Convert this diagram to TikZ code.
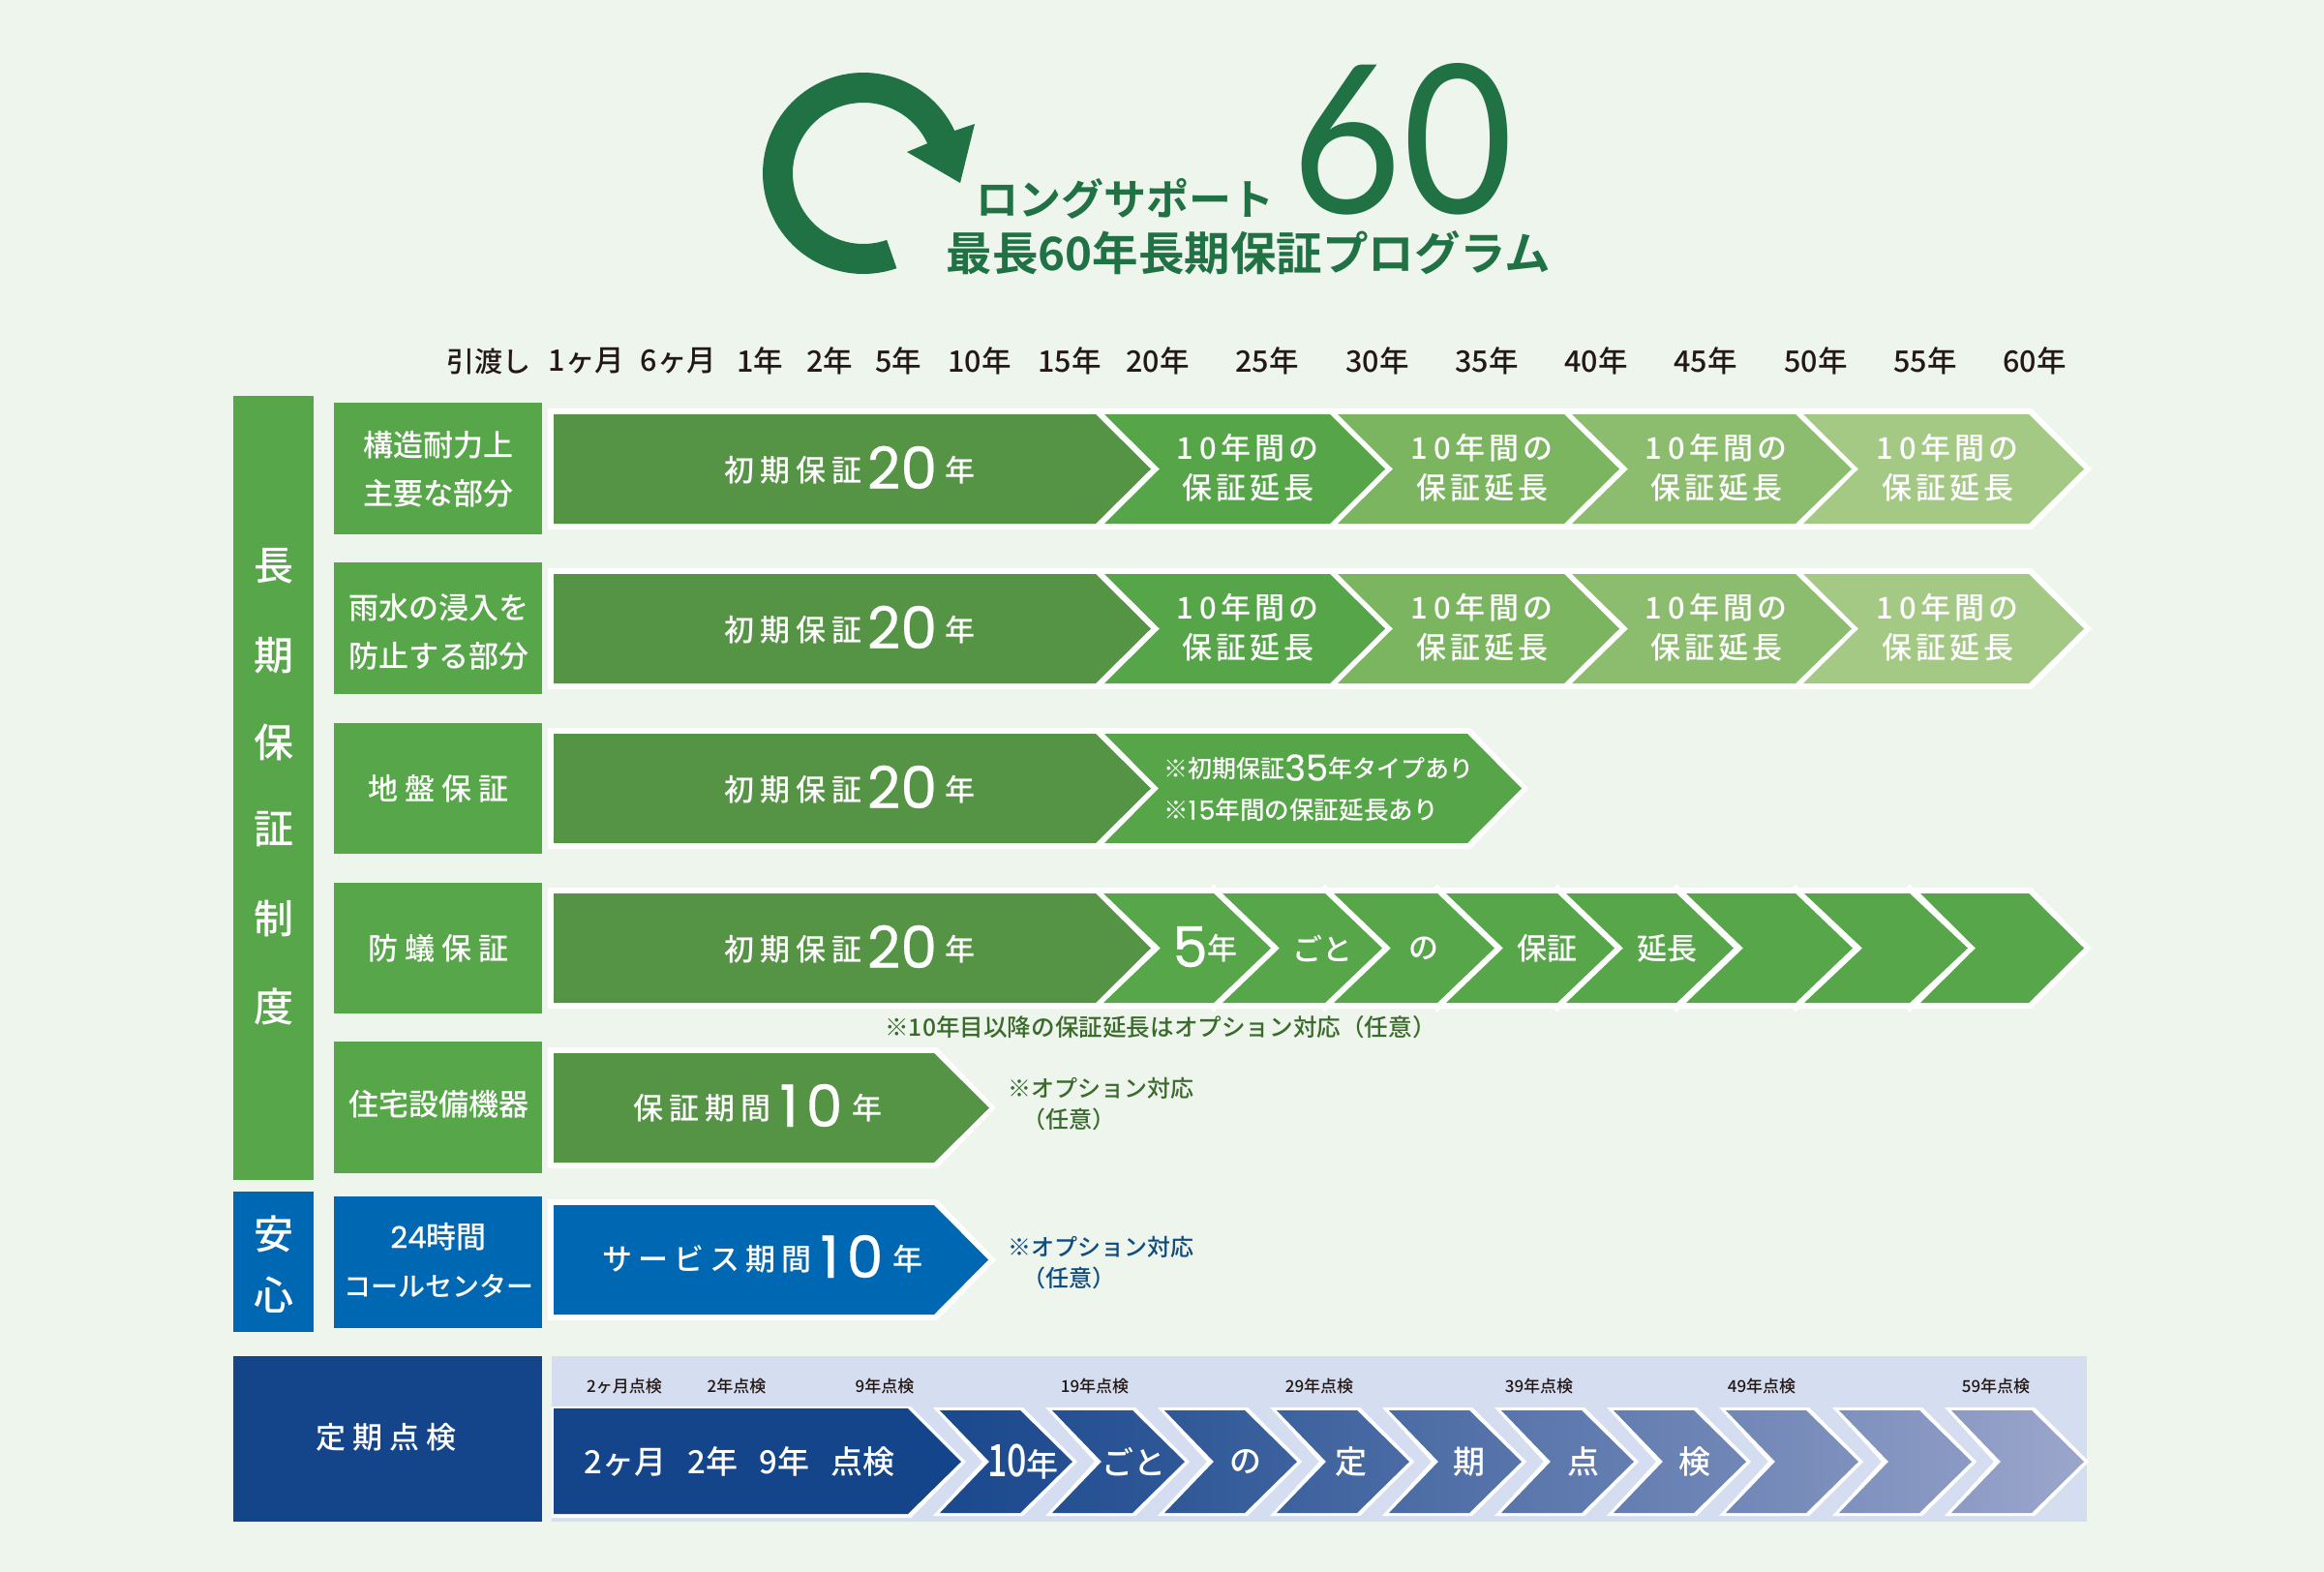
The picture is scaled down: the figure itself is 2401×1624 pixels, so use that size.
\documentclass[tikz,border=0pt]{standalone}
\usepackage{fontspec}
\newfontfamily\cjk{Noto Sans CJK JP Medium}
\newfontfamily\cjkbold{Noto Sans CJK JP Bold}
\newfontfamily\pop[FakeBold=0.5]{Poppins}
\newfontfamily\bigfont{Lato}
\definecolor{bgc}{HTML}{EEF5EC}
\definecolor{gbox}{HTML}{58A64A}
\definecolor{gdark}{HTML}{559445}
\definecolor{gone}{HTML}{56A548}
\definecolor{gtwo}{HTML}{7CB560}
\definecolor{gthree}{HTML}{8CBC6E}
\definecolor{gfour}{HTML}{A3C985}
\definecolor{blu}{HTML}{0068B3}
\definecolor{nav}{HTML}{14448A}
\definecolor{navend}{HTML}{9CA6CC}
\definecolor{panel}{HTML}{D5DEF0}
\definecolor{logo}{HTML}{207144}
\definecolor{notegreen}{HTML}{3A6A2C}
\definecolor{noteblue}{HTML}{0F4C81}
\definecolor{ink}{HTML}{231815}
\newcommand\chev[6]{\path[fill=#1] (#2,#5) -- (#3,#5) -- (#4,{(#5+#6)/2}) -- (#3,#6) -- (#2,#6) -- ({#2+#4-#3},{(#5+#6)/2}) -- cycle;}
\newcommand\flatbar[5]{\path[fill=#1] (#2,#4) -- (#3,#4) -- ({#3+57},{(#4+#5)/2}) -- (#3,#5) -- (#2,#5) -- cycle;}
\newcommand\backing[4]{\path[fill=white] (566,#3) -- (#1,#3) -- (#2,{(#3+#4)/2}) -- (#1,#4) -- (566,#4) -- cycle;}
\newcommand\bignum[2]{\raisebox{-8pt}{\pop\fontsize{#1}{#1}\selectfont #2}}
\newcommand\midnum[2]{\raisebox{-3pt}{\pop\fontsize{#1}{#1}\selectfont #2}}
\newcommand\spk{\kern7pt}
\newcommand\kr{\kern4pt}
\newcommand\tenyr{1\kern7pt 0\kr 年\kr 間\kr の\\保\kr 証\kr 延\kr 長}
\newcommand\shokibar{初\kern6pt 期\kern6pt 保\kern6pt 証\kern5pt\bignum{60}{20}\kern8pt 年}
\newcommand\bottomchev[3]{\path[fill=white] ({#1-7},1454) -- ({#1+86},1454) -- ({#1+142},1510) -- ({#1+86},1566) -- ({#1-7},1566) -- ({#1+44},1510) -- cycle;
 \shade[left color=nav!#2!navend,right color=nav!#3!navend] (#1,1457) -- ({#1+83},1457) -- ({#1+137},1510) -- ({#1+83},1563) -- (#1,1563) -- ({#1+51},1510) -- cycle;}
\tikzset{
  txt/.style={inner sep=0pt,text=white,align=center},
  fs/.style 2 args={font=\cjk\fontsize{#1}{#2}\selectfont},
  head/.style={txt,text=ink,fs={30.5}{36}},
  rowlab/.style={txt,fs={31}{50}},
  collab/.style={txt,fs={41}{48}},
  barnum/.style={txt,anchor=base,fs={31}{36}},
  chevt/.style={txt,fs={31}{41}},
  smalltxt/.style={txt,text=ink,fs={17}{20}}
}
\begin{document}
\begin{tikzpicture}[x=1pt,y=-1pt]
\useasboundingbox (0,0) rectangle (2401,1624);
\path[fill=bgc] (0,0) rectangle (2401,1624);

% logo
\path[fill=logo] plot[domain=-70.7:-335,samples=80] ({892+104*cos(\x)},{179-104*sin(\x)})
  -- (1007,128) -- (992,189) -- (937,157)
  -- plot[domain=-335:-70.7,samples=80] ({892+73*cos(\x)},{179-73*sin(\x)}) -- cycle;
\node[txt,text=logo] (big60) at (1449,144) {\scalebox{0.92}[1]{\bigfont\fontsize{214}{214}\selectfont 60}};
\node[txt,text=logo,font=\cjkbold\fontsize{44}{50}\selectfont] (titleA) at (1162,205) {ロングサポート};
\node[txt,text=logo,font=\cjkbold\fontsize{47.5}{52}\selectfont] (titleB) at (1290,261) {最長60年長期保証プログラム};

% header
\node[head,fs={29}{36}] (h0) at (505,373) {引渡し};
\node[head] (h1) at (606,373) {1ヶ月};
\node[head] (h2) at (701,373) {6ヶ月};
\node[head] (h3) at (785,373) {1年};
\node[head] (h4) at (857,373) {2年};
\node[head] (h5) at (928,373) {5年};
\node[head] (h6) at (1012,373) {10年};
\node[head] (h7) at (1105,373) {15年};
\node[head] (h8) at (1196,373) {20年};
\node[head] (h9) at (1309,373) {25年};
\node[head] (h10) at (1423,373) {30年};
\node[head] (h11) at (1536,373) {35年};
\node[head] (h12) at (1649,373) {40年};
\node[head] (h13) at (1762,373) {45年};
\node[head] (h14) at (1876,373) {50年};
\node[head] (h15) at (1989,373) {55年};
\node[head] (h16) at (2102,373) {60年};

% left columns
\path[fill=gbox] (241,409) rectangle (324,1219);
\path[fill=blu] (241,1231) rectangle (324,1376);
\path[fill=nav] (241,1401) rectangle (560,1572);
\path[fill=gbox] (345,416) rectangle (560,552);
\path[fill=gbox] (345,581) rectangle (560,717);
\path[fill=gbox] (345,747) rectangle (560,882);
\path[fill=gbox] (345,912) rectangle (560,1047);
\path[fill=gbox] (345,1076) rectangle (560,1212);
\path[fill=blu] (345,1236) rectangle (560,1372);
\node[collab] (c1) at (283,585) {長};
\node[collab] (c2) at (283,677) {期};
\node[collab] (c3) at (283,767) {保};
\node[collab] (c4) at (283,857) {証};
\node[collab] (c5) at (283,949) {制};
\node[collab] (c6) at (283,1040) {度};
\node[collab] (c7) at (283,1275) {安};
\node[collab] (c8) at (283,1338) {心};
\node[rowlab] (r1) at (453,485) {構造耐力上\\主要な部分};
\node[rowlab] (r2) at (453,653) {雨水の浸入を\\防止する部分};
\node[rowlab] (r3) at (453,815) {地\spk 盤\spk 保\spk 証};
\node[rowlab] (r4) at (453,980) {防\spk 蟻\spk 保\spk 証};
\node[rowlab] (r5) at (453,1141) {住宅設備機器};
\node[txt,fs={28}{50}] (r6) at (453,1302) {{\pop\fontsize{31}{31}\selectfont 24}{\fontsize{31}{31}\selectfont 時間}\\コールセンター};
\node[rowlab] (r7) at (399,1485) {定\spk 期\spk 点\spk 検};

% row 1
\backing{2099}{2161}{422}{547}
\flatbar{gdark}{572}{1132}{428}{541}
\chev{gone}{1141}{1374}{1431}{428}{541}
\chev{gtwo}{1382}{1616}{1673}{428}{541}
\chev{gthree}{1624}{1855}{1913}{428}{541}
\chev{gfour}{1863}{2096}{2153}{428}{541}
\node[barnum] (b1) at (878,497) {\shokibar};
\node[chevt] (t11) at (1289,483) {\tenyr};
\node[chevt] (t12) at (1531,483) {\tenyr};
\node[chevt] (t13) at (1773,483) {\tenyr};
\node[chevt] (t14) at (2012,483) {\tenyr};

% row 2
\backing{2099}{2161}{587}{712}
\flatbar{gdark}{572}{1132}{593}{706}
\chev{gone}{1141}{1374}{1431}{593}{706}
\chev{gtwo}{1382}{1616}{1673}{593}{706}
\chev{gthree}{1624}{1855}{1913}{593}{706}
\chev{gfour}{1863}{2096}{2153}{593}{706}
\node[barnum] (b2) at (878,662) {\shokibar};
\node[chevt] (t21) at (1289,648) {\tenyr};
\node[chevt] (t22) at (1531,648) {\tenyr};
\node[chevt] (t23) at (1773,648) {\tenyr};
\node[chevt] (t24) at (2012,648) {\tenyr};

% row 3
\backing{1519}{1579}{752}{877}
\flatbar{gdark}{572}{1132}{758}{871}
\chev{gone}{1141}{1516}{1572}{758}{871}
\node[barnum] (b3) at (878,827) {\shokibar};
\node[txt,fs={25}{30},anchor=west] (t31) at (1202,793) {※初期保証\midnum{37}{35}年タイプあり};
\node[txt,fs={25.6}{30},anchor=west] (t32) at (1202,837) {※{\pop\fontsize{27}{30}\selectfont 1\kern2pt 5}年間の保証延長あり};

% row 4
\backing{2099}{2161}{917}{1042}
\path[fill=white] (1251,917) -- (1254,913) -- (1257,917) (1366,917) -- (1369,913) -- (1372,917) (1482,917) -- (1485,913) -- (1488,917) (1606,917) -- (1609,913) -- (1612,917) (1729,917) -- (1732,913) -- (1735,917) (1852,917) -- (1855,913) -- (1858,917) (1970,917) -- (1973,913) -- (1976,917);
\path[fill=white] (1251,1042) -- (1254,1046) -- (1257,1042) (1366,1042) -- (1369,1046) -- (1372,1042) (1482,1042) -- (1485,1046) -- (1488,1042) (1606,1042) -- (1609,1046) -- (1612,1042) (1729,1042) -- (1732,1046) -- (1735,1042) (1852,1042) -- (1855,1046) -- (1858,1042) (1970,1042) -- (1973,1046) -- (1976,1042);
\flatbar{gdark}{572}{1132}{923}{1036}
\chev{gbox}{1140}{1254}{1313}{923}{1036}
\chev{gbox}{1263}{1369}{1428}{923}{1036}
\chev{gbox}{1378}{1485}{1544}{923}{1036}
\chev{gbox}{1494}{1609}{1668}{923}{1036}
\chev{gbox}{1618}{1732}{1791}{923}{1036}
\chev{gbox}{1742}{1855}{1914}{923}{1036}
\chev{gbox}{1864}{1973}{2033}{923}{1036}
\chev{gbox}{1984}{2096}{2153}{923}{1036}
\node[barnum] (b4) at (878,992) {\shokibar};
\node[barnum] (t41) at (1245,991) {\bignum{58}{5}年};
\node[txt,fs={31}{36}] (t42) at (1366,980) {ごと};
\node[txt,fs={31}{36}] (t43) at (1471,980) {の};
\node[txt,fs={31}{36}] (t44) at (1598,980) {保証};
\node[txt,fs={31}{36}] (t45) at (1722,980) {延長};
\node[txt,text=notegreen,fs={24.6}{28}] (n4) at (1199,1061) {※10年目以降の保証延長はオプション対応（任意）};

% row 5
\backing{968}{1029}{1082}{1207}
\flatbar{gdark}{572}{965}{1088}{1201}
\node[barnum] (b5) at (783,1156) {保\kern6pt 証\kern6pt 期\kern6pt 間\kern9pt\bignum{60}{1\kern8pt 0}\kern10pt 年};
\node[txt,text=notegreen,fs={24}{28},anchor=west] (n5a) at (1041,1124) {※オプション対応};
\node[txt,text=notegreen,fs={24}{28}] (n5b) at (1104,1156) {（任意）};

% row 6
\backing{968}{1029}{1239}{1364}
\path[fill=blu] (572,1245) -- (965,1245) -- (1021,1301.5) -- (965,1358) -- (572,1358) -- cycle;
\node[barnum] (b6) at (788,1312) {サ\kern6pt ー\kern6pt ビ\kern6pt ス\kern6pt 期\kern6pt 間\kern9pt\bignum{60}{1\kern8pt 0}\kern10pt 年};
\node[txt,text=noteblue,fs={24}{28},anchor=west] (n6a) at (1041,1288) {※オプション対応};
\node[txt,text=noteblue,fs={24}{28}] (n6b) at (1104,1320) {（任意）};

% inspection row
\path[fill=panel] (570,1401) rectangle (2156,1572);
\path[fill=white] (570,1453) -- (941,1453) -- (998,1510) -- (941,1568) -- (570,1568) -- cycle;
\path[fill=nav] (572,1455) -- (938,1455) -- (993,1510) -- (938,1564) -- (572,1564) -- cycle;
\bottomchev{971}{95}{88}
\bottomchev{1087}{88}{80}
\bottomchev{1203}{80}{70}
\bottomchev{1319}{70}{60}
\bottomchev{1435}{60}{50}
\bottomchev{1551}{50}{41}
\bottomchev{1667}{41}{32}
\bottomchev{1783}{32}{22}
\bottomchev{1900}{22}{12}
\bottomchev{2016}{12}{0}
\node[smalltxt] (p1) at (645,1432) {2ヶ月点検};
\node[smalltxt] (p2) at (761,1432) {2年点検};
\node[smalltxt] (p3) at (914,1432) {9年点検};
\node[smalltxt] (p4) at (1131,1432) {19年点検};
\node[smalltxt] (p5) at (1363,1432) {29年点検};
\node[smalltxt] (p6) at (1590,1432) {39年点検};
\node[smalltxt] (p7) at (1820,1432) {49年点検};
\node[smalltxt] (p8) at (2062,1432) {59年点検};
\node[txt,fs={33}{36}] (m0) at (764,1510) {2ヶ月\kern22pt 2年\kern22pt 9年\kern22pt 点検};
\node[txt,fs={33}{36}] (m1) at (1057,1510) {\scalebox{0.78}[1]{\fontsize{46}{46}\selectfont 10}\fontsize{33}{36}\selectfont 年};
\node[txt,fs={33}{36}] (m2) at (1171,1510) {ごと};
\node[txt,fs={33}{36}] (m3) at (1287,1510) {の};
\node[txt,fs={33}{36}] (m4) at (1396,1510) {定};
\node[txt,fs={33}{36}] (m5) at (1518,1510) {期};
\node[txt,fs={33}{36}] (m6) at (1636,1510) {点};
\node[txt,fs={33}{36}] (m7) at (1751,1510) {検};
\end{tikzpicture}
\end{document}
